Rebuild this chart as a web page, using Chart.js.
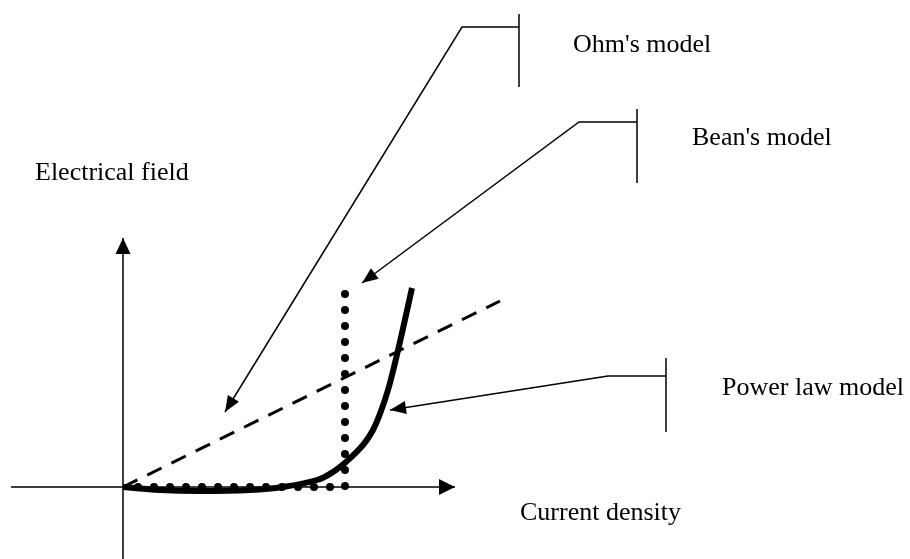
<!DOCTYPE html>
<html>
<head>
<meta charset="utf-8">
<script src="https://cdn.jsdelivr.net/npm/chart.js@4/dist/chart.umd.min.js"></script>
<style>
  html, body { margin: 0; padding: 0; background: #fff; }
  canvas { display: block; }
</style>
</head>
<body>
<canvas id="myChart" width="910" height="559"></canvas>
<script>
// schematic units: 1 unit = 10 px, origin where the axes cross
const currentDensity = [0, 3.7, 7.7, 12.7, 16, 19.4, 21, 22.4, 24.0, 25.0, 25.8, 26.5, 27.2, 27.9, 28.9]
const powerLawField  = [0, -0.3, -0.4, -0.3, 0, 0.7, 1.5, 2.6, 4.2, 5.7, 7.6, 9.7, 12.4, 15.4, 19.9]

const ohmJ = [0, 37.7]
const ohmE = [0, 18.6]

// Bean's critical state: vertical at Jc then flat along the axis
const beanJ = [22.2, 22.2, 0]
const beanE = [19.3, 0, 0]

const xAxisJ = [-11.2, 33.2]
const xAxisE = [0, 0]
const yAxisJ = [0, 0]
const yAxisE = [-7.2, 24.9]

// callouts: tick, elbow, arrow tip
const ohmCalloutJ = [39.6, 39.6, 39.6, 33.9, 10.2]
const ohmCalloutE = [47.3, 40.0, 46.0, 46.0, 7.5]
const beanCalloutJ = [51.4, 51.4, 51.4, 45.6, 23.9]
const beanCalloutE = [37.8, 30.4, 36.5, 36.5, 20.4]
const powerCalloutJ = [54.3, 54.3, 54.3, 48.5, 26.7]
const powerCalloutE = [12.9, 5.5, 11.1, 11.1, 7.7]

const labelTexts = ["Ohm's model", "Bean's model", "Power law model", "Electrical field", "Current density"]
const labelJ = [45.0, 56.9, 59.9, -8.8, 39.7]
const labelE = [43.5, 34.2, 9.2, 30.7, -3.3]

function pts(xs, ys) {
  return xs.map((x, i) => ({ x: x, y: ys[i] }))
}

function thinLine(xs, ys, arrow) {
  return {
    data: pts(xs, ys),
    showLine: true,
    borderColor: '#000',
    borderWidth: 1.5,
    pointRadius: 0,
    tension: 0,
    arrowHead: arrow,
    order: 3,
  }
}

const arrowPlugin = {
  id: 'arrows',
  afterDatasetsDraw(chart) {
    const ctx = chart.ctx
    chart.data.datasets.forEach((ds, i) => {
      if (!ds.arrowHead) return
      const pts = chart.getDatasetMeta(i).data
      const a = pts[pts.length - 2], b = pts[pts.length - 1]
      const ang = Math.atan2(b.y - a.y, b.x - a.x)
      const len = ds.arrowHead[0], half = ds.arrowHead[1]
      ctx.save()
      ctx.translate(b.x, b.y)
      ctx.rotate(ang)
      ctx.beginPath()
      ctx.moveTo(0, 0)
      ctx.lineTo(-len, -half)
      ctx.lineTo(-len, half)
      ctx.closePath()
      ctx.fillStyle = '#000'
      ctx.fill()
      ctx.restore()
    })
  }
}

const labelPlugin = {
  id: 'labels',
  afterDraw(chart) {
    const ctx = chart.ctx
    const xs = chart.scales.x, ys = chart.scales.y
    ctx.save()
    ctx.fillStyle = '#000'
    ctx.font = '26px "Liberation Serif", "Times New Roman", serif'
    ctx.textAlign = 'left'
    ctx.textBaseline = 'alphabetic'
    labelTexts.forEach((t, i) => {
      ctx.fillText(t, xs.getPixelForValue(labelJ[i]), ys.getPixelForValue(labelE[i]))
    })
    ctx.restore()
  }
}

const ctx = document.getElementById('myChart')
new Chart(ctx, {
  type: 'scatter',
  data: {
    datasets: [
      {
        label: 'Power law model',
        data: pts(currentDensity, powerLawField),
        showLine: true,
        borderColor: '#000',
        borderWidth: 6,
        pointRadius: 0,
        tension: 0.4,
        borderCapStyle: 'butt',
        order: 0,
      },
      {
        label: "Bean's model",
        data: pts(beanJ, beanE),
        showLine: true,
        borderColor: '#000',
        borderWidth: 8,
        borderDash: [0, 16],
        borderCapStyle: 'round',
        pointRadius: 0,
        tension: 0,
        order: 1,
      },
      {
        label: "Ohm's model",
        data: pts(ohmJ, ohmE),
        showLine: true,
        borderColor: '#000',
        borderWidth: 3,
        borderDash: [16, 11],
        pointRadius: 0,
        tension: 0,
        order: 2,
      },
      thinLine(xAxisJ, xAxisE, [16, 8]),
      thinLine(yAxisJ, yAxisE, [16, 7.5]),
      thinLine(ohmCalloutJ, ohmCalloutE, [16, 6.5]),
      thinLine(beanCalloutJ, beanCalloutE, [16, 6.5]),
      thinLine(powerCalloutJ, powerCalloutE, [16, 6.5]),
    ]
  },
  options: {
    responsive: false,
    animation: false,
    layout: { padding: 0 },
    plugins: {
      legend: { display: false },
      tooltip: { enabled: false },
    },
    scales: {
      x: { type: 'linear', min: -12.3, max: 78.7, display: false },
      y: { type: 'linear', min: -7.2, max: 48.7, display: false },
    }
  },
  plugins: [arrowPlugin, labelPlugin]
});
</script>
</body>
</html>
